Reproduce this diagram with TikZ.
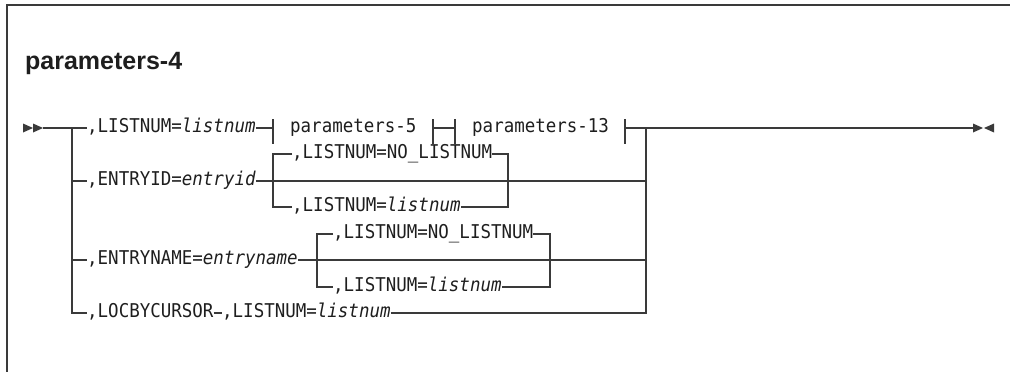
\documentclass[tikz,border=0pt]{standalone}
\usepackage{fontspec}
\setmainfont{Liberation Sans}
\newfontfamily\synfont[FakeStretch=0.92]{DejaVu Sans Mono}
\usepackage{tikz}
\usetikzlibrary{arrows.meta,positioning,calc}
\definecolor{railink}{HTML}{3A3A3A}
\definecolor{textink}{HTML}{1E1E1E}
\newcommand\fragbar[1]{\draw[rail] ([yshift=9pt]#1) -- ([yshift=-16pt]#1);}

\begin{document}
\begin{tikzpicture}[x=1pt,y=-1pt,
  rail/.style={line width=1.4pt,railink},
  frameline/.style={line width=1.5pt,railink},
  kw/.style={font=\fontsize{19}{19}\synfont,textink,inner sep=0pt,
    text height=10pt,text depth=2pt,anchor=west},
  heading/.style={font=\fontsize{25}{25}\selectfont\bfseries,textink,
    inner sep=0pt,anchor=base west}]
  \useasboundingbox (0,0) rectangle (1010,372);
  \draw[frameline] (7,372) -- (7,5) -- (1010,5);
  \node[heading] (ttl) at (25,69) {parameters-4};

  % main row
  \coordinate (start) at (43,128);
  \coordinate (lrail) at (72,128);
  \coordinate (fragA) at (273,128);
  \coordinate (fragB) at (433,128);
  \coordinate (fragC) at (455,128);
  \coordinate (fragD) at (625,128);
  \coordinate (rrail) at (646,128);
  \coordinate (stop) at (973,128);
  \fill[railink] (23,123.5) -- (33,128) -- (23,132.5) -- cycle
    (33,123.5) -- (43,128) -- (33,132.5) -- cycle;
  \fill[railink] (973,123.5) -- (983,128) -- (973,132.5) -- cycle
    (994,123.5) -- (984,128) -- (994,132.5) -- cycle;
  \node[kw] (lnum) at (87,128) {,LISTNUM=\textit{listnum}};
  \node[kw] (p5) at (290,128) {parameters-5};
  \node[kw] (p13) at (472,128) {parameters-13};
  \draw[rail] (start) -- (lnum.west);
  \draw[rail] (lnum.east) -- (fragA);
  \fragbar{fragA}
  \fragbar{fragB}
  \fragbar{fragC}
  \draw[rail] (fragB) -- (fragC);
  \fragbar{fragD}
  \draw[rail] (fragD) -- (stop);
  \draw[line width=2.2pt,railink] (653,128) -- (672,128);

  % ENTRYID
  \node[kw] (eid) at (87,181) {,ENTRYID=\textit{entryid}};
  \node[kw] (eidno) at (292,154) {,LISTNUM=NO\_LISTNUM};
  \node[kw] (eidln) at (292,207) {,LISTNUM=\textit{listnum}};
  \coordinate (eidL) at (273,181);
  \coordinate (eidR) at (508,181);
  \draw[rail] (lrail |- eid.west) -- (eid.west);
  \draw[rail] (eid.east) -- (rrail |- eid.east);
  \draw[rail] (eidno.west) -| (eidL) |- (eidln.west);
  \draw[rail] (eidno.east) -| (eidR) |- (eidln.east);

  % ENTRYNAME
  \node[kw] (enm) at (87,260) {,ENTRYNAME=\textit{entryname}};
  \node[kw] (enmno) at (333,234) {,LISTNUM=NO\_LISTNUM};
  \node[kw] (enmln) at (333,287) {,LISTNUM=\textit{listnum}};
  \coordinate (enmL) at (317,260);
  \coordinate (enmR) at (550,260);
  \draw[rail] (lrail |- enm.west) -- (enm.west);
  \draw[rail] (enm.east) -- (rrail |- enm.east);
  \draw[rail] (enmno.west) -| (enmL) |- (enmln.west);
  \draw[rail] (enmno.east) -| (enmR) |- (enmln.east);

  % LOCBYCURSOR
  \node[kw] (loc) at (87,313) {,LOCBYCURSOR};
  \node[kw] (locln) at (222,313) {,LISTNUM=\textit{listnum}};
  \draw[rail] (lrail) |- (loc.west);
  \draw[rail] (loc.east) -- (locln.west);
  \draw[rail] (locln.east) -| (rrail);
\end{tikzpicture}
\end{document}
